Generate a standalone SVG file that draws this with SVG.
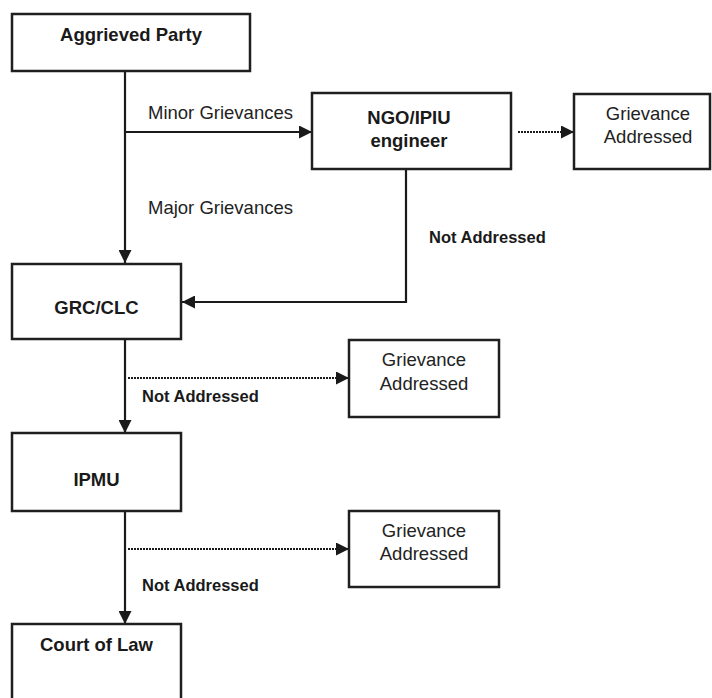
<svg xmlns="http://www.w3.org/2000/svg" width="712" height="698" viewBox="0 0 712 698">
<defs>
<marker id="ah" markerUnits="userSpaceOnUse" markerWidth="13" markerHeight="13" refX="13" refY="6.5" orient="auto">
<path d="M0,0 L13,6.5 L0,13 Z" fill="#1a1a1a"/>
</marker>
</defs>
<style>
.box{fill:#fff;stroke:#1f1f1f;stroke-width:2.5}
.ln{fill:none;stroke:#1a1a1a;stroke-width:2.2}
.dot{fill:none;stroke:#1a1a1a;stroke-width:2.2;stroke-dasharray:2 1}
.b{font-family:"Liberation Sans",Arial,sans-serif;font-weight:bold;font-size:18.5px;fill:#1a1a1a;text-anchor:middle}
.r{font-family:"Liberation Sans",Arial,sans-serif;font-size:18.5px;fill:#222;text-anchor:middle}
.lbl{font-family:"Liberation Sans",Arial,sans-serif;font-size:18.5px;fill:#222}
.na{font-family:"Liberation Sans",Arial,sans-serif;font-weight:bold;font-size:16.5px;fill:#1a1a1a}
</style>
<rect width="712" height="698" fill="#fff"/>
<g id="connectors">
<path class="ln" d="M125,71 V263" marker-end="url(#ah)"/>
<path class="ln" d="M125,132 H312" marker-end="url(#ah)"/>
<path class="ln" d="M406,169 V302 H182" marker-end="url(#ah)"/>
<path class="dot" d="M518,132 H574" marker-end="url(#ah)"/>
<path class="ln" d="M125,339 V433" marker-end="url(#ah)"/>
<path class="dot" d="M128,378 H349" marker-end="url(#ah)"/>
<path class="ln" d="M125,511 V624" marker-end="url(#ah)"/>
<path class="dot" d="M128,549 H349" marker-end="url(#ah)"/>
<text class="lbl" x="148" y="119">Minor Grievances</text>
<text class="lbl" x="148" y="214">Major Grievances</text>
<text class="na" x="429" y="243">Not Addressed</text>
<text class="na" x="142" y="402">Not Addressed</text>
<text class="na" x="142" y="591">Not Addressed</text>
</g>
<g id="aggrieved">
<rect class="box" x="12" y="14" width="238" height="57"/>
<text class="b" x="131" y="41">Aggrieved Party</text>
</g>
<g id="ngo">
<rect class="box" x="312" y="93" width="199" height="76"/>
<text class="b" x="409" y="124">NGO/IPIU</text>
<text class="b" x="409" y="147">engineer</text>
</g>
<g id="addressed1">
<rect class="box" x="574" y="94" width="136" height="75"/>
<text class="r" x="648" y="120">Grievance</text>
<text class="r" x="648" y="143">Addressed</text>
</g>
<g id="grc">
<rect class="box" x="12" y="264" width="169" height="75"/>
<text class="b" x="96.5" y="314">GRC/CLC</text>
</g>
<g id="addressed2">
<rect class="box" x="349" y="340" width="150" height="77"/>
<text class="r" x="424" y="366">Grievance</text>
<text class="r" x="424" y="390">Addressed</text>
</g>
<g id="ipmu">
<rect class="box" x="12" y="433" width="169" height="78"/>
<text class="b" x="96.5" y="486">IPMU</text>
</g>
<g id="addressed3">
<rect class="box" x="349" y="511" width="150" height="76"/>
<text class="r" x="424" y="537">Grievance</text>
<text class="r" x="424" y="560">Addressed</text>
</g>
<g id="court">
<rect class="box" x="12" y="624" width="169" height="90"/>
<text class="b" x="96.5" y="651">Court of Law</text>
</g>
</svg>
